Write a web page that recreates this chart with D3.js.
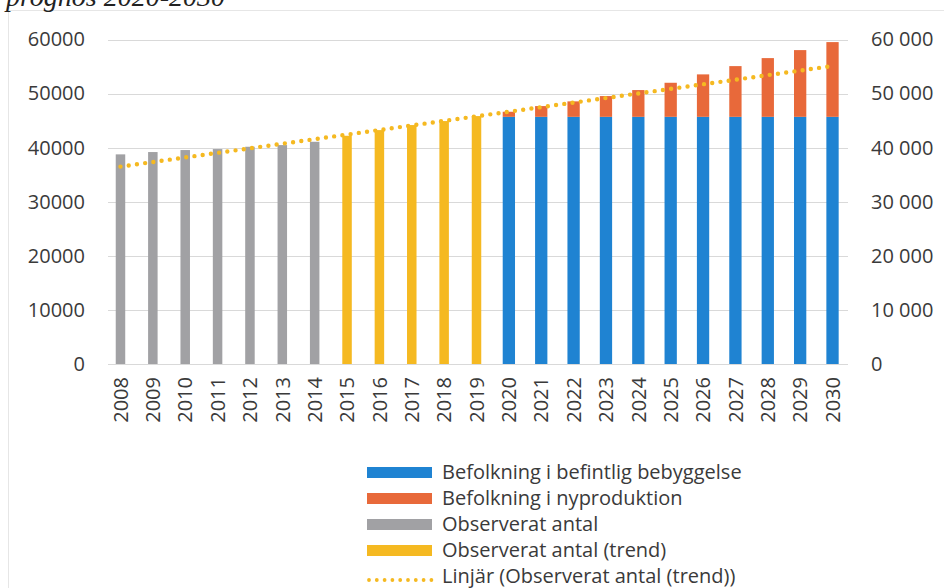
<!DOCTYPE html>
<html><head><meta charset="utf-8">
<script src="https://cdn.jsdelivr.net/npm/d3@7"></script>
<style>
html,body{margin:0;padding:0;background:#fff;}
svg{display:block;}
</style></head>
<body>
<script>
const years = ["2008","2009","2010","2011","2012","2013","2014","2015","2016","2017","2018","2019","2020","2021","2022","2023","2024","2025","2026","2027","2028","2029","2030"];
const observedYears = ["2008","2009","2010","2011","2012","2013","2014"];
const observed = [38760, 39190, 39560, 39740, 40170, 40480, 41090];
const trendYears = ["2015","2016","2017","2018","2019"];
const trend = [42200, 43250, 44180, 44920, 45840];
const forecastYears = ["2020","2021","2022","2023","2024","2025","2026","2027","2028","2029","2030"];
const existing = [45700, 45700, 45700, 45700, 45700, 45700, 45700, 45700, 45700, 45700, 45700];
const newProd = [940, 1990, 2860, 3840, 4950, 6300, 7850, 9380, 10860, 12340, 13820];
const linearYears = ["2008","2030"];
const linear = [36500, 55100];
const yTicks = [0, 10000, 20000, 30000, 40000, 50000, 60000];
const legendLabels = ["Befolkning i befintlig bebyggelse","Befolkning i nyproduktion","Observerat antal","Observerat antal (trend)","Linjär (Observerat antal (trend))"];
const titleText = "prognos 2020-2030";

const W = 944, H = 588;
const C = {blue:"#1f83d2", orange:"#e8693a", grey:"#a1a1a4", yellow:"#f5b921", text:"#3a3a3a", grid:"#d9d9d9"};

const svg = d3.select("body").append("svg").attr("width", W).attr("height", H);

// faint frame
svg.append("path").attr("d", "M8.5,588 V10.5 H944").attr("fill","none").attr("stroke","#e6e6e6").attr("stroke-width",1);

// title (cut off at top, as in the reference)
svg.append("text").attr("x", 6).attr("y", 6)
  .attr("font-family", "'Liberation Serif','DejaVu Serif',serif").attr("font-style","italic")
  .attr("font-size", 28).attr("fill", "#222").text(titleText);

const x = d3.scaleBand().domain(years).range([104.3, 848.7]).paddingInner(0).paddingOuter(0);
const y = d3.scaleLinear().domain([0, 60000]).range([364, 39.5]);
const cx = d => x(d) + x.bandwidth()/2;

// gridlines
svg.append("g").selectAll("line").data(yTicks).join("line")
  .attr("x1", 108).attr("x2", 848).attr("y1", d => Math.round(y(d))+0.5).attr("y2", d => Math.round(y(d))+0.5)
  .attr("stroke", C.grid).attr("stroke-width", 1);

const font = "'Open Sans','Noto Sans',sans-serif";

// left axis
const leftAxis = d3.axisLeft(y).tickValues(yTicks).tickFormat(d3.format("d")).tickSize(0).tickPadding(0);
const gl = svg.append("g").attr("transform", "translate(85,0)").call(leftAxis);
gl.select(".domain").remove();
gl.selectAll("text").attr("font-family", font).attr("font-size", 20).attr("fill", C.text);

// right axis
const loc = d3.formatLocale({decimal:",", thousands:"\u00a0", grouping:[3], currency:["","kr"]});
const rightAxis = d3.axisRight(y).tickValues(yTicks).tickFormat(loc.format(",d")).tickSize(0).tickPadding(0);
const gr = svg.append("g").attr("transform", "translate(871,0)").call(rightAxis);
gr.select(".domain").remove();
gr.selectAll("text").attr("font-family", font).attr("font-size", 20).attr("fill", C.text);

// bottom axis labels
const bottomAxis = d3.axisBottom(x).tickSize(0).tickPadding(0);
const gb = svg.append("g").attr("transform", "translate(0,377)").call(bottomAxis);
gb.select(".domain").remove();
gb.selectAll("text").attr("font-family", font).attr("font-size", 20).attr("fill", C.text)
  .attr("transform", "rotate(-90)").attr("text-anchor", "end").attr("x", 0).attr("y", 0).attr("dy", "0.36em");

// bars
const narrow = 9.5, wide = 12.3;
svg.append("g").selectAll("rect").data(observed).join("rect")
  .attr("x", (d,i) => cx(observedYears[i]) - narrow/2).attr("width", narrow)
  .attr("y", d => y(d)).attr("height", d => y(0) - y(d)).attr("fill", C.grey);
svg.append("g").selectAll("rect").data(trend).join("rect")
  .attr("x", (d,i) => cx(trendYears[i]) - narrow/2).attr("width", narrow)
  .attr("y", d => y(d)).attr("height", d => y(0) - y(d)).attr("fill", C.yellow);
svg.append("g").selectAll("rect").data(existing).join("rect")
  .attr("x", (d,i) => cx(forecastYears[i]) - wide/2).attr("width", wide)
  .attr("y", d => y(d)).attr("height", d => y(0) - y(d)).attr("fill", C.blue);
svg.append("g").selectAll("rect").data(newProd).join("rect")
  .attr("x", (d,i) => cx(forecastYears[i]) - wide/2).attr("width", wide)
  .attr("y", (d,i) => y(existing[i] + d)).attr("height", (d,i) => y(existing[i]) - y(existing[i] + d)).attr("fill", C.orange);

// linear trend (dotted)
const line = d3.line().x(d => cx(d[0])).y(d => y(d[1]));
svg.append("path").datum(linearYears.map((yy,i) => [yy, linear[i]]))
  .attr("d", line).attr("fill","none").attr("stroke", C.yellow).attr("stroke-width", 4.4)
  .attr("stroke-linecap","round").attr("stroke-dasharray","0 8.3");

// legend
const lg = svg.append("g");
const rowY = [472, 498, 524, 550, 576];
const swCol = [C.blue, C.orange, C.grey, C.yellow];
legendLabels.forEach((t,i) => {
  if (i < 4) {
    lg.append("rect").attr("x", 367).attr("y", rowY[i]-5).attr("width", 65).attr("height", 11).attr("fill", swCol[i]);
  } else {
    lg.append("line").attr("x1", 369).attr("x2", 432).attr("y1", rowY[i]+4).attr("y2", rowY[i]+4)
      .attr("stroke", C.yellow).attr("stroke-width", 3.8).attr("stroke-linecap","round").attr("stroke-dasharray","0 7.8");
  }
  lg.append("text").attr("x", 442).attr("y", rowY[i]).attr("dy","0.36em")
    .attr("font-family", font).attr("font-size", 20).attr("fill", C.text).text(t);
});
</script>
</body></html>
